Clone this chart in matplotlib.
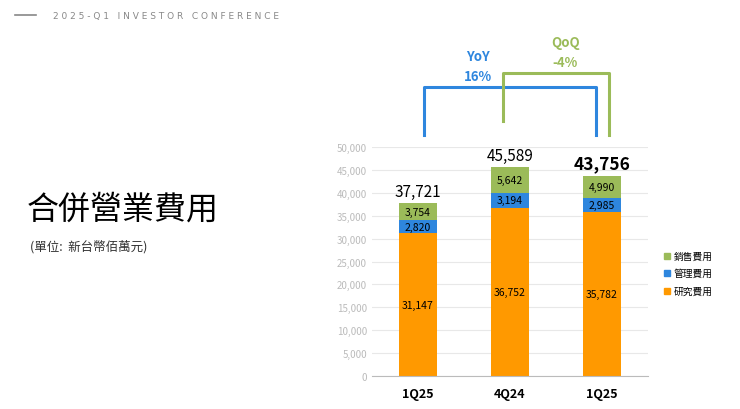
import matplotlib
matplotlib.use("Agg")
import matplotlib.pyplot as plt
from matplotlib.patches import Rectangle
from matplotlib.lines import Line2D

plt.rcParams['font.family'] = ['Noto Sans CJK TC', 'DejaVu Sans']

categories = ["1Q25", "4Q24", "1Q25"]
research = [31147, 36752, 35782]
admin = [2820, 3194, 2985]
sales = [3754, 5642, 4990]
totals = [37721, 45589, 43756]
series_names = ["銷售費用", "管理費用", "研究費用"]
yticks = list(range(0, 50001, 5000))

C_OR = "#FF9900"; C_BL = "#2E86DE"; C_GR = "#9BBB59"

fig = plt.figure(figsize=(7.4, 4.1), dpi=100)
fig.patch.set_facecolor("white")

# header
fig.add_artist(Line2D([15/740, 36/740], [1-16/410]*2, color="#888888", lw=1.2))
fig.text(53/740, 1-16/410, " ".join("2025-Q1") + "   " + " ".join("INVESTOR") + "   " + " ".join("CONFERENCE"),
         fontsize=6.5, color="#888888", va="center", family="DejaVu Sans")
fig.text(27/740, 1-210/410, "合併營業費用", fontsize=23, va="center")
fig.text(30/740, 1-247/410, "(單位:  新台幣佰萬元)", fontsize=9, va="center", color="#333333")

ax = fig.add_axes([372/740, 1-377/410, 276/740, 229/410])
x = range(len(categories))
w = 0.42
ax.bar(x, research, w, color=C_OR)
ax.bar(x, admin, w, bottom=research, color=C_BL)
b2 = [r + a for r, a in zip(research, admin)]
ax.bar(x, sales, w, bottom=b2, color=C_GR)
for i in x:
    ax.text(i, research[i]/2, f"{research[i]:,}", ha="center", va="center", fontsize=7.5)
    ax.text(i, research[i] + admin[i]/2, f"{admin[i]:,}", ha="center", va="center", fontsize=7.5)
    ax.text(i, b2[i] + sales[i]/2, f"{sales[i]:,}", ha="center", va="center", fontsize=7.5)
    ax.text(i, totals[i] + 700, f"{totals[i]:,}", ha="center", va="bottom",
            fontsize=11 if i < 2 else 12.5, fontweight="normal" if i < 2 else "bold")
ax.set_xlim(-0.5, 2.5)
ax.set_ylim(0, 50000)
ax.set_yticks(yticks)
ax.set_yticklabels([f"{v:,}" for v in yticks], fontsize=7, color="#BBBBBB")
ax.set_xticks(list(x))
ax.set_xticklabels(categories, fontsize=9, fontweight="bold")
ax.grid(axis="y", color="#E8E8E8", lw=0.8)
ax.set_axisbelow(True)
for s in ["top", "right", "left"]:
    ax.spines[s].set_visible(False)
ax.spines["bottom"].set_color("#BBBBBB")
ax.tick_params(axis="y", length=0)
ax.tick_params(axis="x", length=0, pad=8)

# brackets
ax.plot([0.065, 0.065, 2-0.065, 2-0.065], [52600, 63100, 63100, 52600], color=C_BL, lw=2.2, clip_on=False)
ax.plot([1-0.076, 1-0.076, 2+0.076, 2+0.076], [55700, 66200, 66200, 52600], color=C_GR, lw=2.2, clip_on=False)
ax.text(0.65, (377-57)/229*50000, "YoY", color=C_BL, fontsize=9.5, fontweight="bold", ha="center", va="center")
ax.text(0.65, (377-77)/229*50000, "16%", color=C_BL, fontsize=9.5, fontweight="bold", ha="center", va="center")
ax.text(1.6, (377-43)/229*50000, "QoQ", color=C_GR, fontsize=9.5, fontweight="bold", ha="center", va="center")
ax.text(1.6, (377-63)/229*50000, "-4%", color=C_GR, fontsize=9.5, fontweight="bold", ha="center", va="center")

# legend
cols = [C_GR, C_BL, C_OR]
ys = [257, 274, 292]
for c, n, yy in zip(cols, series_names, ys):
    fig.add_artist(Rectangle((664/740, 1-(yy+3)/410), 6/740, 6/410, color=c))
    fig.text(674/740, 1-yy/410, n, fontsize=7, va="center")

fig.savefig("out.png", dpi=100)
